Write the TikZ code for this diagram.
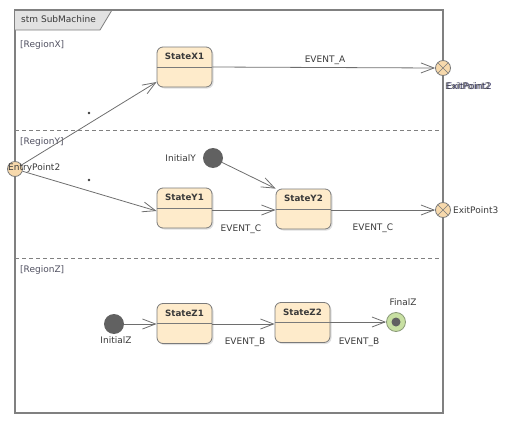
\documentclass[tikz,border=0pt]{standalone}
\usepackage{fontspec}
\setmainfont{DejaVu Sans}
\usetikzlibrary{arrows.meta,shadows,calc}
\definecolor{frameC}{HTML}{808080}
\definecolor{stFill}{HTML}{FEEBCB}
\definecolor{stDraw}{HTML}{7A7A7A}
\definecolor{lineC}{HTML}{6E6E6E}
\definecolor{txtC}{HTML}{3A3A3A}
\definecolor{rgC}{HTML}{505060}
\definecolor{ptFill}{HTML}{F7D9AC}
\definecolor{initC}{HTML}{616161}
\definecolor{finFill}{HTML}{C8E0A2}
\definecolor{finDraw}{HTML}{8A9A78}
\definecolor{tabC}{HTML}{E2E2E2}
\tikzset{
  lbl/.style={font=\fontsize{9}{11}\selectfont, text=txtC, inner sep=0pt},
  stname/.style={font=\fontsize{8.7}{10}\selectfont\bfseries, text=txtC, inner sep=0pt},
  statebox/.style={draw=stDraw, fill=stFill, line width=0.8pt, rounded corners=6pt,
     minimum width=55pt, minimum height=40pt, inner sep=0pt,
     drop shadow={shadow xshift=1.5pt, shadow yshift=-1.5pt, opacity=0.25}},
  initnode/.style={circle, fill=initC, minimum size=20pt, inner sep=0pt},
  ptnode/.style={circle, draw=stDraw, fill=ptFill, line width=0.8pt, minimum size=15pt, inner sep=0pt},
  trans/.style={draw=lineC, line width=0.8pt, -{Straight Barb[length=13pt,width=10pt,line width=0.8pt]}},
  divider/.style={draw=frameC, dashed, dash pattern=on 4pt off 3pt, line width=0.8pt},
  guarddot/.style={circle, fill=txtC, minimum size=2.8pt, inner sep=0pt},
}
\begin{document}
\begin{tikzpicture}[x=1pt,y=-1pt]
\useasboundingbox (0,0) rectangle (507,423);
% frame
\draw[frameC, line width=1.4pt] (15,10) rectangle (443,413);
\fill[tabC] (15,10) -- (112,10) -- (100,30) -- (15,30) -- cycle;
\draw[frameC, line width=0.8pt] (112,10) -- (100,30) -- (15,30);
\draw[frameC, line width=1.4pt] (15,10) -- (443,10);
\node[lbl, anchor=west] (title) at (21,19) {stm SubMachine};
% region dividers
\draw[divider] (15,130) -- (443,130);
\draw[divider] (15,258) -- (443,258);
\node[lbl, anchor=west, text=rgC] (rx) at (20,45) {[RegionX]};
\node[lbl, anchor=west, text=rgC] (ry) at (20,142) {[RegionY]};
\node[lbl, anchor=west, text=rgC] (rz) at (20,270) {[RegionZ]};
% states
\node[statebox] (x1) at (184.5,67) {};
\node[statebox] (y1) at (184.5,208) {};
\node[statebox] (y2) at (303.5,209) {};
\node[statebox] (z1) at (184.5,323.5) {};
\node[statebox] (z2) at (302.5,322.5) {};
\foreach \s/\t in {x1/StateX1,y1/StateY1,y2/StateY2,z1/StateZ1,z2/StateZ2}{
  \draw[stDraw, line width=0.8pt] (\s.west) -- (\s.east);
  \node[stname] (\s t) at ($(\s.north)+(0,10)$) {\t};
}
% pseudo states
\node[initnode] (iy) at (213,158) {};
\node[lbl, anchor=east] (iyl) at (196,158) {InitialY};
\node[initnode] (iz) at (114,324) {};
\node[lbl] (izl) at (116,340) {InitialZ};
\node[circle, draw=finDraw, fill=finFill, line width=0.8pt, minimum size=19pt, inner sep=0pt] (fz) at (396,322) {};
\fill[initC] (fz.center) circle (4.5pt);
\node[lbl] (fzl) at (403,302) {FinalZ};
\node[ptnode] (en) at (15,169) {};
\node[lbl, anchor=west] (enl) at (8,168) {EntryPoint2};
\node[ptnode] (ex2) at (443,68) {};
\draw[stDraw, line width=0.7pt] ($(ex2.center)+(-5,-5)$) -- ($(ex2.center)+(5,5)$) ($(ex2.center)+(-5,5)$) -- ($(ex2.center)+(5,-5)$);
\node[lbl, anchor=west, text=txtC!80!blue] (ex2l) at (446.5,86) {ExitPoint2};
\node[lbl, anchor=west, opacity=0.8] (ex2lb) at (445,86) {ExitPoint2};
\node[ptnode] (ex3) at (443,210) {};
\draw[stDraw, line width=0.7pt] ($(ex3.center)+(-5,-5)$) -- ($(ex3.center)+(5,5)$) ($(ex3.center)+(-5,5)$) -- ($(ex3.center)+(5,-5)$);
\node[lbl, anchor=west] (ex3l) at (453,210) {ExitPoint3};
% transitions
\draw[trans] (en) -- ([yshift=-15pt]x1.west);
\node[guarddot] (g1) at (89,113) {};
\draw[trans] (en) -- ([yshift=-3pt]y1.west);
\node[guarddot] (g2) at (89,180) {};
\draw[trans] (iy) -- (y2.north west);
\draw[trans] (y1.east |- 0,210) -- (y2.west |- 0,210);
\node[lbl] (ec1) at (241,229) {EVENT\_C};
\draw[trans] (x1.east) -- (ex2.west);
\node[lbl] (ea) at (325,60) {EVENT\_A};
\draw[trans] (y2.east |- 0,210) -- (ex3.west);
\node[lbl] (ec2) at (373,228) {EVENT\_C};
\draw[trans] (iz) -- (z1.west |- 0,324);
\draw[trans] (z1.east |- 0,324) -- (z2.west |- 0,324);
\node[lbl] (eb1) at (245,342) {EVENT\_B};
\draw[trans] (z2.east |- 0,322) -- (fz.west);
\node[lbl] (eb2) at (359,342) {EVENT\_B};
\end{tikzpicture}
\end{document}
